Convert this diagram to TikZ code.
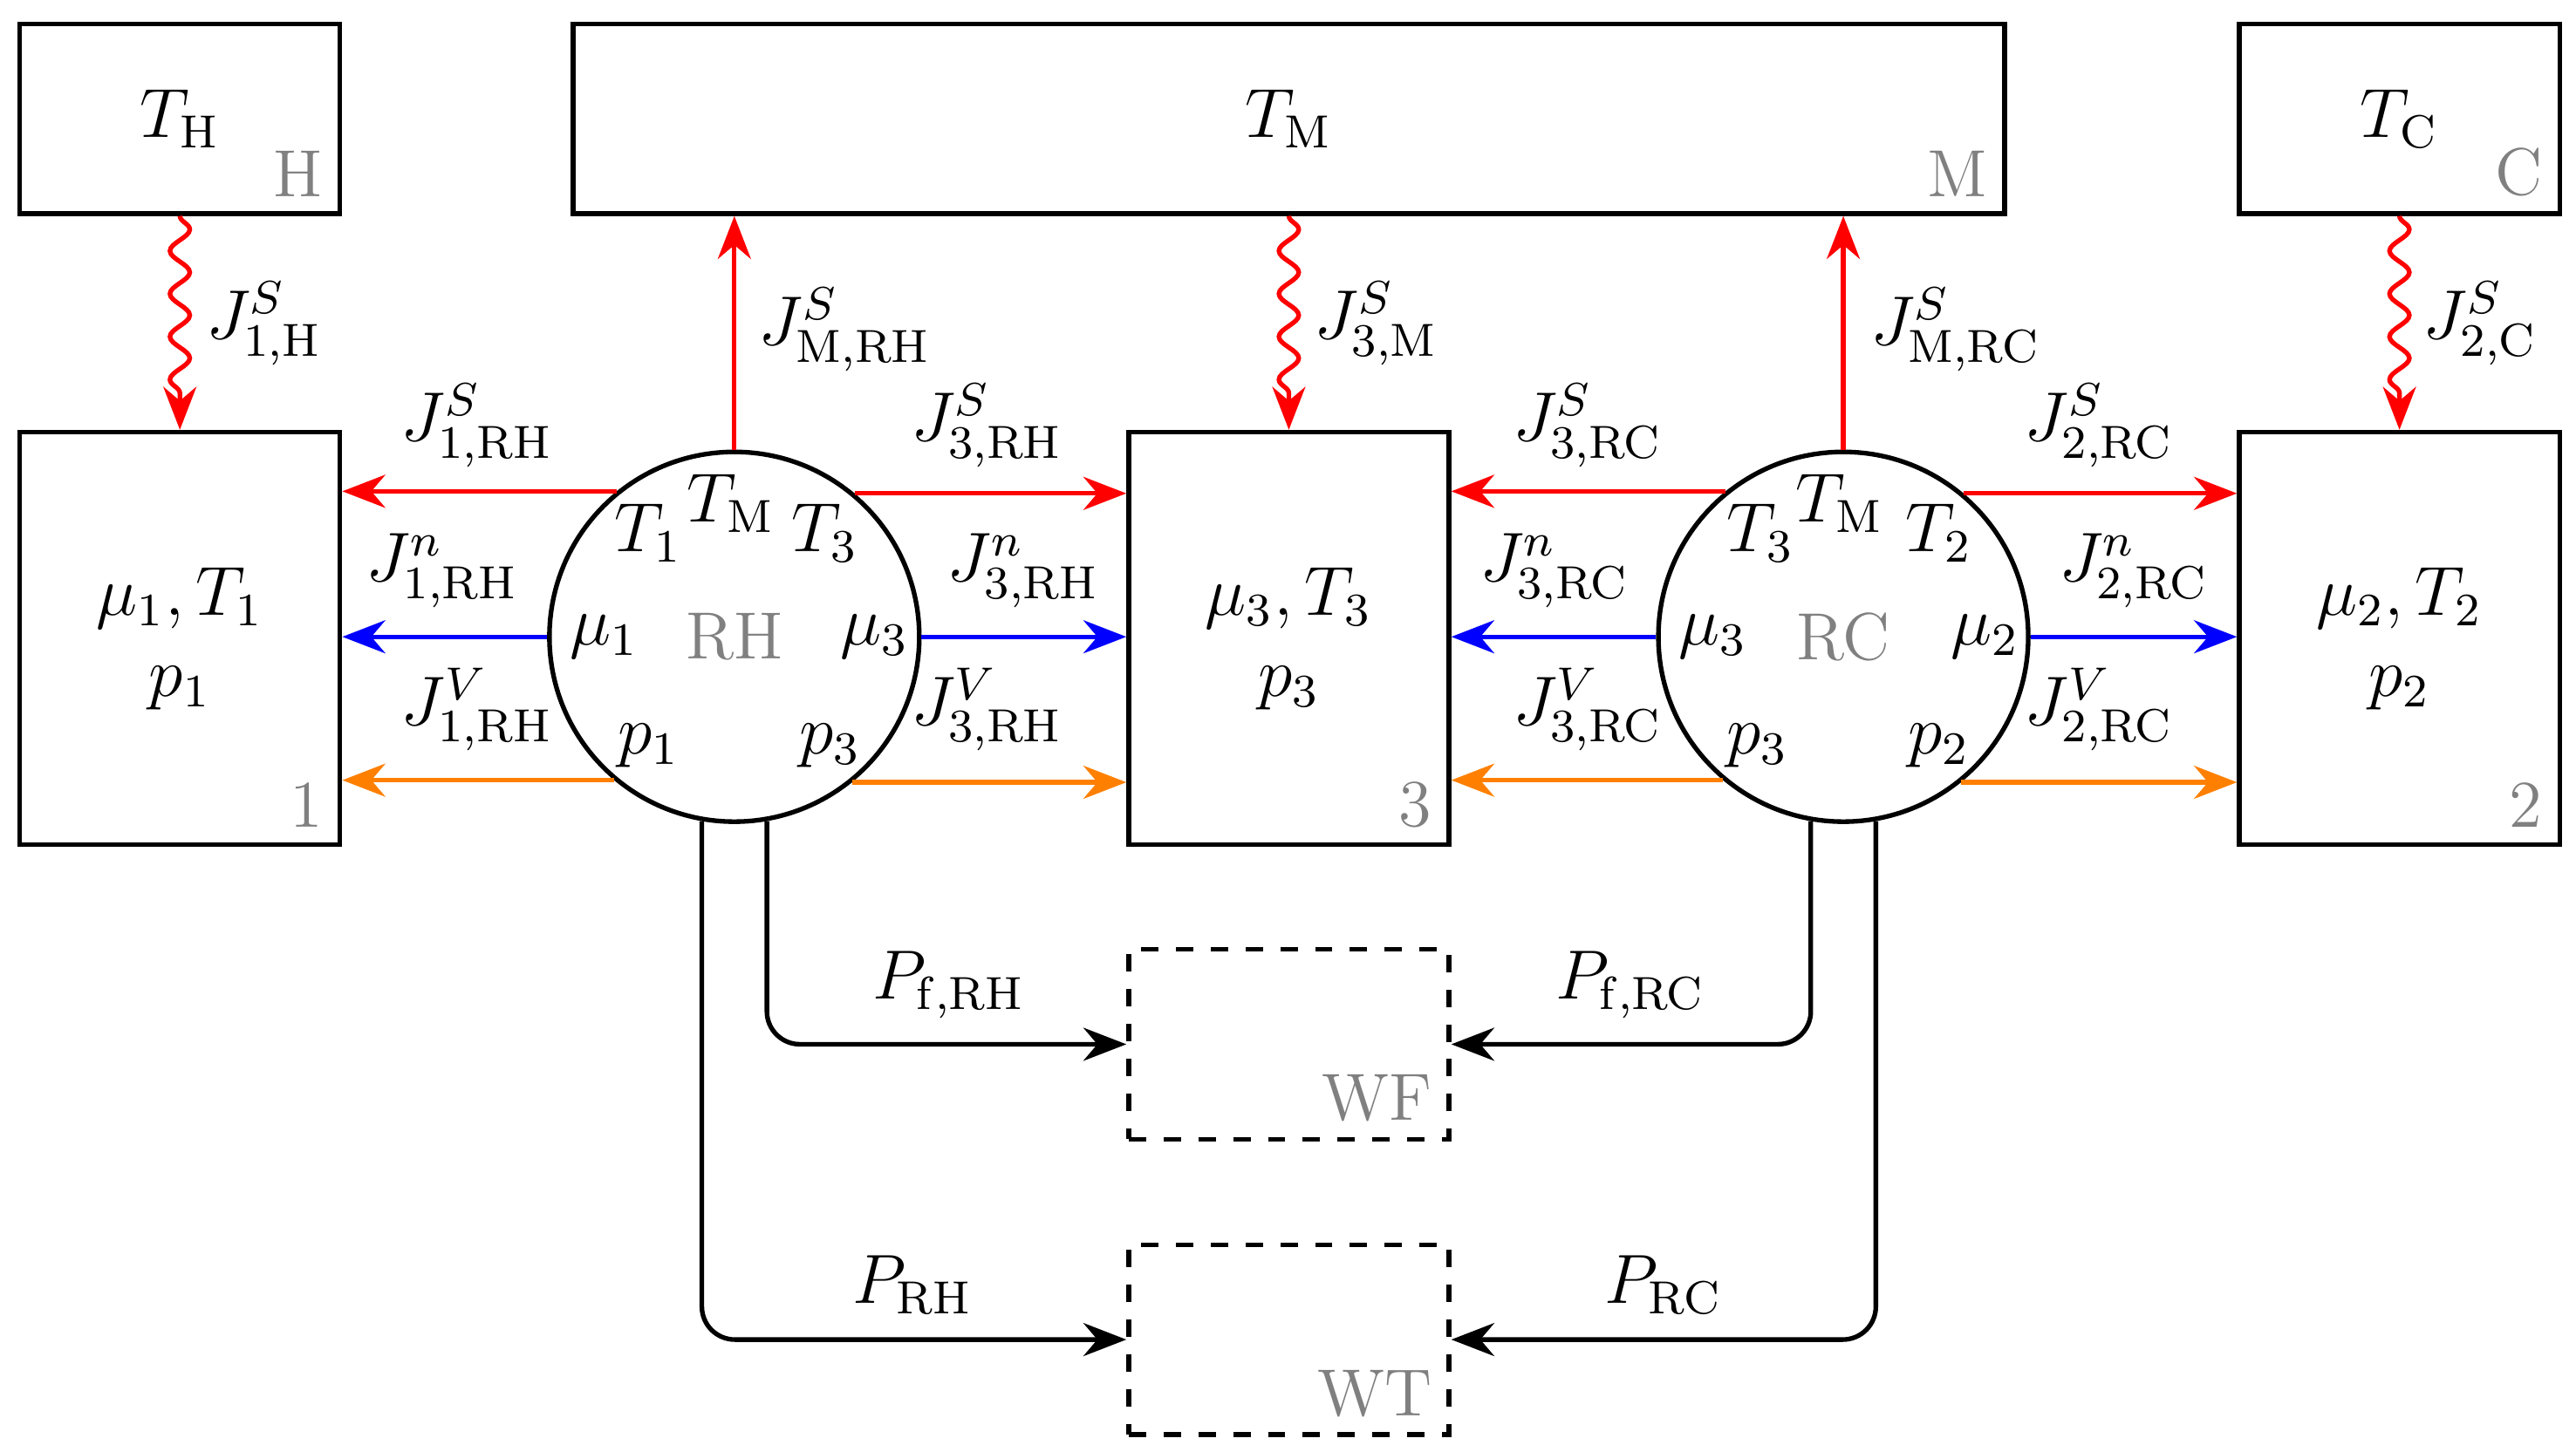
\documentclass[tikz,border=0pt]{standalone}
\usetikzlibrary{arrows.meta,decorations.pathmorphing}
\begin{document}
\begin{tikzpicture}
[x=0.01cm,y=-0.01cm,thick,>={Stealth[length=2.6mm,width=2mm]},%
  every node/.style={font=\fontsize{11.5}{14}\selectfont},%
  res/.style={draw,rectangle,minimum width=1.94cm,minimum height=1.15cm,inner sep=0pt},%
  body/.style={res,minimum height=2.5cm,align=center},%
  work/.style={res,dashed},%
  engine/.style={draw,circle,minimum size=2.24cm,inner sep=0pt},%
  tag/.style={gray,anchor=south east,inner sep=3pt},%
  heat/.style={->,red},%
  part/.style={->,blue},%
  vol/.style={->,orange},%
  wavy/.style={->,red,decorate,decoration={snake,amplitude=0.6mm,segment length=2.6mm,post length=2mm}},%
  pow/.style={->,rounded corners=2mm}]
\useasboundingbox (0,0) rectangle (1561,880);
% reservoirs
\node[res] (H) at (109,72) {$T_{\mathrm{H}}$};
\node[res,minimum width=8.67cm] (M) at (781,72) {$T_{\mathrm{M}}$};
\node[res] (C) at (1454,72) {$T_{\mathrm{C}}$};
\node[body] (B1) at (109,387) {$\mu_1,T_1$\\$p_1$};
\node[body] (B3) at (781,387) {$\mu_3,T_3$\\$p_3$};
\node[body] (B2) at (1454,387) {$\mu_2,T_2$\\$p_2$};
\node[work] (WF) at (781,633) {};
\node[work] (WT) at (781,812) {};
\node[tag] at (H.south east) {H};
\node[tag] at (M.south east) {M};
\node[tag] at (C.south east) {C};
\node[tag] at (B1.south east) {1};
\node[tag] at (B3.south east) {3};
\node[tag] at (B2.south east) {2};
\node[tag] at (WF.south east) {WF};
\node[tag] at (WT.south east) {WT};
% engines
\node[engine] (RH) at (445,386) {};
\node[engine] (RC) at (1117,386) {};
\node[gray] at (RH) {RH};
\node[gray] at (RC) {RC};
\node at (443,305) {$T_{\mathrm{M}}$};
\node at (393,323) {$T_1$};
\node at (500,323) {$T_3$};
\node at (366,386) {$\mu_1$};
\node at (530,386) {$\mu_3$};
\node at (393,452) {$p_1$};
\node at (503,452) {$p_3$};
\node at (1115,305) {$T_{\mathrm{M}}$};
\node at (1067,323) {$T_3$};
\node at (1175,323) {$T_2$};
\node at (1038,386) {$\mu_3$};
\node at (1203,386) {$\mu_2$};
\node at (1065,452) {$p_3$};
\node at (1175,452) {$p_2$};
% heat from reservoirs
\draw[wavy] (H.south) -- (B1.north);
\draw[wavy] (M.south -| B3.north) -- (B3.north);
\draw[wavy] (C.south) -- (B2.north);
\draw[heat] (RH.north) -- (M.south -| RH.north);
\draw[heat] (RC.north) -- (M.south -| RC.north);
\node (l1H) at (160,196) {$J^S_{1,\mathrm{H}}$};
\node (l3M) at (834,196) {$J^S_{3,\mathrm{M}}$};
\node (l2C) at (1503,196) {$J^S_{2,\mathrm{C}}$};
\node (lMRH) at (512,200) {$J^S_{\mathrm{M,RH}}$};
\node (lMRC) at (1185,200) {$J^S_{\mathrm{M,RC}}$};
% fluxes RH
\draw[heat] (RH.129.8) -- (B1.east |- RH.129.8);
\draw[part] (RH.west) -- (B1.east |- RH.west);
\draw[vol] (RH.230.2) -- (B1.east |- RH.230.2);
\draw[heat] (RH.50.2) -- (B3.west |- RH.50.2);
\draw[part] (RH.east) -- (B3.west |- RH.east);
\draw[vol] (RH.309.8) -- (B3.west |- RH.309.8);
\node (lS1RH) at (289,258) {$J^S_{1,\mathrm{RH}}$};
\node (ln1RH) at (268,346) {$J^n_{1,\mathrm{RH}}$};
\node (lV1RH) at (289,430) {$J^V_{1,\mathrm{RH}}$};
\node (lS3RH) at (598,258) {$J^S_{3,\mathrm{RH}}$};
\node (ln3RH) at (620,346) {$J^n_{3,\mathrm{RH}}$};
\node (lV3RH) at (598,430) {$J^V_{3,\mathrm{RH}}$};
% fluxes RC
\draw[heat] (RC.129.8) -- (B3.east |- RC.129.8);
\draw[part] (RC.west) -- (B3.east |- RC.west);
\draw[vol] (RC.230.2) -- (B3.east |- RC.230.2);
\draw[heat] (RC.50.2) -- (B2.west |- RC.50.2);
\draw[part] (RC.east) -- (B2.west |- RC.east);
\draw[vol] (RC.309.8) -- (B2.west |- RC.309.8);
\node (lS3RC) at (962,258) {$J^S_{3,\mathrm{RC}}$};
\node (ln3RC) at (942,346) {$J^n_{3,\mathrm{RC}}$};
\node (lV3RC) at (962,430) {$J^V_{3,\mathrm{RC}}$};
\node (lS2RC) at (1272,258) {$J^S_{2,\mathrm{RC}}$};
\node (ln2RC) at (1293,346) {$J^n_{2,\mathrm{RC}}$};
\node (lV2RC) at (1272,430) {$J^V_{2,\mathrm{RC}}$};
% power
\draw[pow] (RH.280.3) |- (WF.west);
\draw[pow] (RH.260.8) |- (WT.west);
\draw[pow] (RC.260.2) |- (WF.east);
\draw[pow] (RC.280.3) |- (WT.east);
\node (lPfRH) at (575,597) {$P_{\mathrm{f,RH}}$};
\node (lPRH) at (553,779) {$P_{\mathrm{RH}}$};
\node (lPfRC) at (988,597) {$P_{\mathrm{f,RC}}$};
\node (lPRC) at (1008,779) {$P_{\mathrm{RC}}$};
\end{tikzpicture}
\end{document}
